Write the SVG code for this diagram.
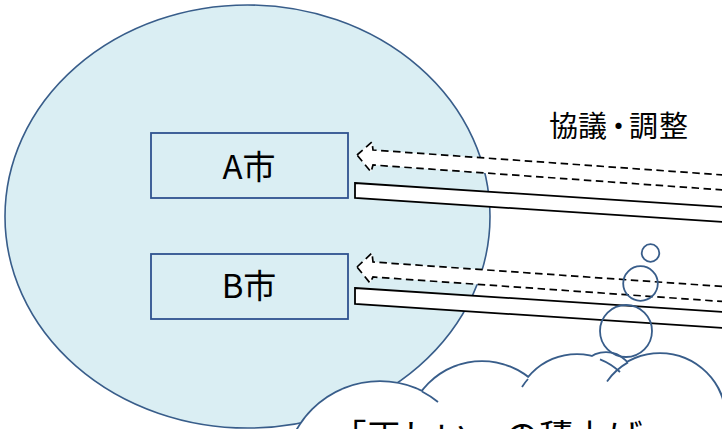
<svg xmlns="http://www.w3.org/2000/svg" width="722" height="429" viewBox="0 0 722 429">
<style>
  .region{fill:#DAEEF3;stroke:#385D8A;stroke-width:1.6}
  .box{fill:none;stroke:#2F528F;stroke-width:1.8}
  text{font-family:"Noto Sans CJK JP","Noto Sans",sans-serif;fill:#000}
  .dash{fill:#fff;stroke:#000;stroke-width:1.7;stroke-dasharray:7.5 4.5}
  .bar{fill:#fff;stroke:#000;stroke-width:1.8}
  .bubble{fill:none;stroke:#385D8A;stroke-width:1.8}
  .cloudline{fill:none;stroke:#385D8A;stroke-width:3.6}
  .cloudfill{fill:#fff;stroke:none}
</style>
<rect width="722" height="429" fill="#fff"/>
<g id="region">
  <ellipse class="region" cx="247.5" cy="216.5" rx="242.5" ry="211.5"/>
</g>
<g id="cityA">
  <rect class="box" x="151" y="133" width="197" height="65"/>
  <text x="249" y="179" font-size="33" text-anchor="middle">A市</text>
</g>
<g id="cityB">
  <rect class="box" x="151" y="254" width="197" height="65"/>
  <text x="249" y="298" font-size="33" text-anchor="middle">B市</text>
</g>
<g id="connectors">
  <polygon class="dash" points="357,155 372,142 373,150 760,177.6 760,192.6 373,165 371,172"/>
  <polygon class="dash" points="357,267 372,253 373,262 760,289.1 760,304.1 373,277 370,283"/>
  <polygon class="bar" points="355,183 760,209.3 760,224.3 355,198"/>
  <polygon class="bar" points="355,288 760,314.3 760,330.3 355,304"/>
</g>
<g id="label">
  <text x="549 578 604 629 659" y="137" font-size="29">協議・調整</text>
</g>
<g id="thought">
  <g id="cloud">
    <circle class="cloudline" cx="380" cy="477" r="95"/>
    <circle class="cloudline" cx="482" cy="437" r="75"/>
    <circle class="cloudline" cx="577" cy="418" r="63"/>
    <circle class="cloudline" cx="606" cy="380" r="27"/>
    <circle class="cloudline" cx="660" cy="419" r="65"/>
    <circle class="cloudfill" cx="380" cy="477" r="95"/>
    <circle class="cloudfill" cx="482" cy="437" r="75"/>
    <circle class="cloudfill" cx="577" cy="418" r="63"/>
    <circle class="cloudfill" cx="606" cy="380" r="27"/>
    <circle class="cloudfill" cx="660" cy="419" r="65"/>
    <path class="bubble" d="M422,391.5 A95,95 0 0 1 438,402"/>
    <path class="bubble" d="M522,387 A63,63 0 0 1 528,379"/>
    <path class="bubble" d="M600,359.3 A63,63 0 0 1 620,372"/>
    <path class="bubble" d="M607,381.4 A65,65 0 0 1 628,362.4"/>
    <text x="332" y="449" font-size="34.5">「正しい」の積上げ</text>
  </g>
  <circle class="bubble" cx="650.5" cy="253" r="8.8"/>
  <circle class="bubble" cx="640.5" cy="283.5" r="17.3"/>
  <circle class="bubble" cx="626" cy="331" r="26"/>
</g>
</svg>
